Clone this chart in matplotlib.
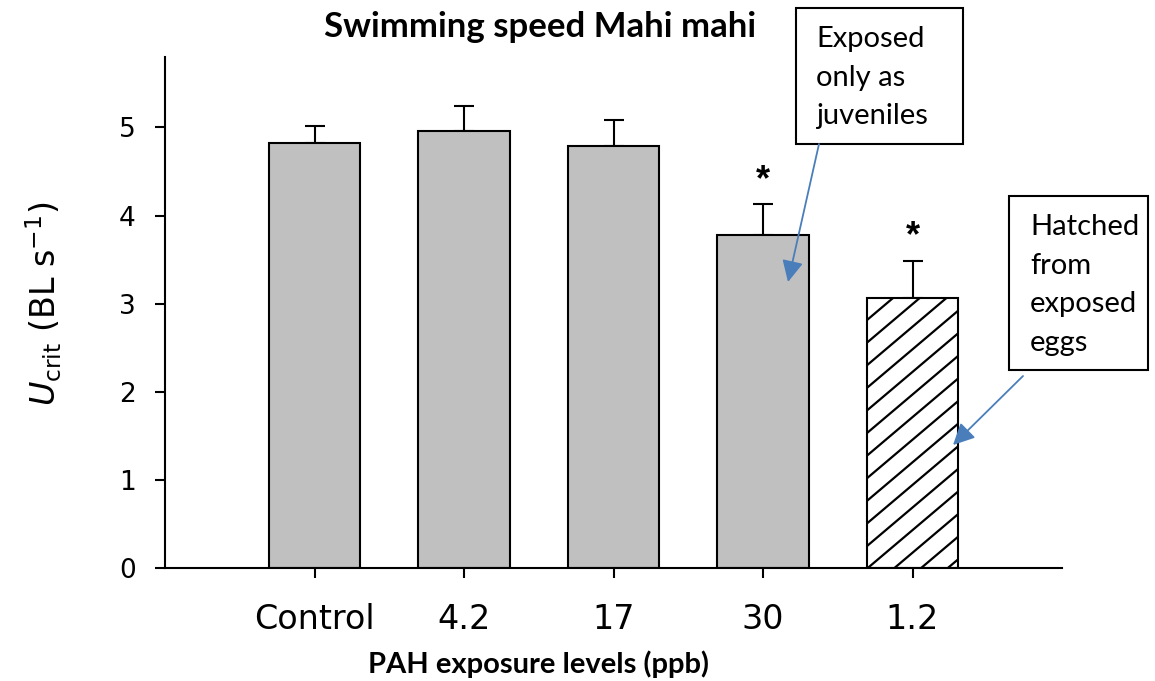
import matplotlib.pyplot as plt
from matplotlib.patches import Rectangle, FancyArrowPatch
import numpy as np

groups = ['Control', '4.2', '17', '30', '1.2']
ucrit = [4.825, 4.96, 4.785, 3.785, 3.07]
sem = [0.195, 0.285, 0.295, 0.345, 0.42]
signif = [False, False, False, True, True]
hatched = [False, False, False, False, True]

W, H = 1155, 681
fig = plt.figure(figsize=(W / 100, H / 100), dpi=100)
ax = fig.add_axes([165 / W, 1 - 568 / H, (1062 - 165) / W, (568 - 57) / H])


def px(x, y):
    # pixel position (from top-left) -> figure fraction
    return (x / W, 1 - y / H)


x = np.arange(len(groups))
bars = ax.bar(x, ucrit, width=0.61,
              color=['white' if h else '#c0c0c0' for h in hatched],
              edgecolor='black', linewidth=1.5, zorder=2)
ax.errorbar(x, ucrit, yerr=[np.zeros(len(x)), sem], fmt='none', ecolor='black',
            elinewidth=1.5, capsize=7, capthick=1.5, zorder=1)

ax.set_xlim(-1, 5)
ax.set_ylim(0, 5.8)

# wide hatching for the egg-exposed bar
sx = ax.transData.transform((1, 0))[0] - ax.transData.transform((0, 0))[0]
sy = ax.transData.transform((0, 1))[1] - ax.transData.transform((0, 0))[1]
step = 26.7 / sx
slope = (22.6 / sy) / step
for b, h in zip(bars, hatched):
    if not h:
        continue
    x0, x1 = b.get_x(), b.get_x() + b.get_width()
    c = x0 - b.get_height() / slope
    while c < x1:
        xs = np.array([x0, x1])
        ln, = ax.plot(xs, slope * (xs - c), color='black', lw=1.6, zorder=2.5)
        ln.set_clip_path(b)
        c += step

for xi, v, e, s in zip(x, ucrit, sem, signif):
    if s:
        ax.text(xi, v + e + 0.47, '*', ha='center', va='top', fontsize=26,
                fontweight='bold', family='Liberation Sans')

ax.spines['top'].set_visible(False)
ax.spines['right'].set_visible(False)
ax.spines['left'].set_linewidth(1.5)
ax.spines['bottom'].set_linewidth(1.5)
ax.set_xticks(x)
ax.set_xticklabels(groups)
ax.set_yticks(range(6))
ax.tick_params(width=1.5, length=7, direction='out')
ax.tick_params(axis='x', labelsize=24, pad=18)
ax.tick_params(axis='y', labelsize=19, pad=14)

ax.set_ylabel(r'$U_{\rm crit}$ (BL s$^{-1}$)', fontsize=24)
ax.yaxis.set_label_coords(*px(64, 304), transform=fig.transFigure)
ax.set_xlabel('PAH exposure levels (ppb)', fontsize=21, fontweight='bold', family='Lato')
ax.xaxis.label.set_va('baseline')
ax.xaxis.set_label_coords(*px(539, 673), transform=fig.transFigure)

fig.text(*px(540, 37), 'Swimming speed Mahi mahi', ha='center', va='baseline',
         fontsize=25, fontweight='bold', family='Lato')


def callout(box, text, tpos, tail, head):
    x0, y0, x1, y1 = box
    fig.add_artist(Rectangle(px(x0, y1), (x1 - x0) / W, (y1 - y0) / H,
                             transform=fig.transFigure, fill=False,
                             edgecolor='black', lw=1.5))
    fig.text(*px(*tpos), text, ha='left', va='top', fontsize=21,
             family='Lato', linespacing=1.6)
    fig.add_artist(FancyArrowPatch(px(*tail), px(*head), transform=fig.transFigure,
                                   arrowstyle='-|>,head_length=0.65,head_width=0.32',
                                   mutation_scale=20, shrinkA=0, shrinkB=0,
                                   color='#4a7ebb', lw=1.3))


callout((796, 8, 963, 144), 'Exposed\nonly as\njuveniles', (816, 26), (819, 144), (788, 282))
callout((1009, 196, 1148, 370), 'Hatched\nfrom\nexposed\neggs', (1030, 214), (1023, 376), (953, 445))

fig.savefig('out.png', dpi=100)
